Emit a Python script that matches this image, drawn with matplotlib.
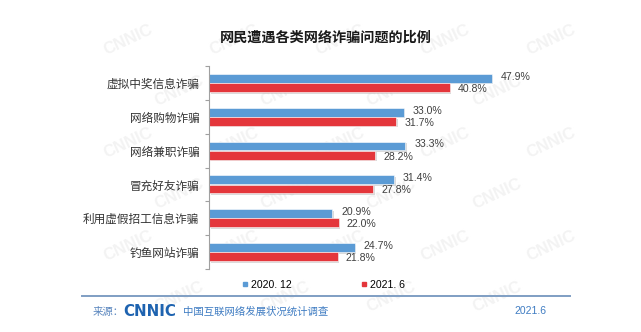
import matplotlib
matplotlib.use("Agg")
import matplotlib.pyplot as plt
import matplotlib.patheffects as pe
from matplotlib.lines import Line2D
import numpy as np

categories = ["虚拟中奖信息诈骗", "网络购物诈骗", "网络兼职诈骗", "冒充好友诈骗", "利用虚假招工信息诈骗", "钓鱼网站诈骗"]
series_names = ["2020. 12", "2021. 6"]
values_2020 = [47.9, 33.0, 33.3, 31.4, 20.9, 24.7]
values_2021 = [40.8, 31.7, 28.2, 27.8, 22.0, 21.8]

title = "网民遭遇各类网络诈骗问题的比例"
source_label = "来源："
logo_text = "CNNIC"
survey_text = "中国互联网络发展状况统计调查"
date_text = "2021.6"

CJK = ["Noto Sans CJK SC", "DejaVu Sans"]
LAT = ["Liberation Sans", "Noto Sans CJK SC", "DejaVu Sans"]
plt.rcParams["font.family"] = CJK

blue = "#5B9BD5"
red = "#E4363B"

fig = plt.figure(figsize=(6.41, 3.32), dpi=100)
fig.patch.set_facecolor("white")

# faint watermark inside the slide area
for row in range(6):
    for col in range(5):
        x = 0.20 + col * 0.165 + (row % 2) * 0.08
        yy = 0.88 - row * 0.155
        if 0.14 < x < 0.88:
            fig.text(x, yy, "CNNIC", fontsize=12, fontweight="bold", color="#F3F3F3",
                     rotation=25, ha="center", va="center", family=LAT, zorder=0)

ax = fig.add_axes([209 / 641, 1 - 269 / 332, 354 / 641, 203 / 332])
ax.set_facecolor("none")
ax.set_zorder(2)

y = np.arange(len(categories))
h = 0.26
off = 0.135
shadow = [pe.SimplePatchShadow(offset=(1.2, -1.2), shadow_rgbFace="#999999", alpha=0.35), pe.Normal()]
ax.barh(y - off, values_2020, height=h, color=blue, edgecolor="white", linewidth=0.4, path_effects=shadow)
ax.barh(y + off, values_2021, height=h, color=red, edgecolor="white", linewidth=0.4, path_effects=shadow)

for v, yy in zip(values_2020, y - off):
    ax.annotate(f"{v:.1f}%", (v, yy), xytext=(6.3, 1.2), textcoords="offset points",
                ha="left", va="center", fontsize=7.6, color="#404040", family=LAT)
for v, yy in zip(values_2021, y + off):
    ax.annotate(f"{v:.1f}%", (v, yy), xytext=(5.8, -1.0), textcoords="offset points",
                ha="left", va="center", fontsize=7.6, color="#404040", family=LAT)

ax.set_xlim(0, 60)
ax.set_ylim(len(categories) - 0.5, -0.5)
ax.set_yticks(y)
ax.set_yticklabels(categories, fontsize=8.4, color="#333333")
ax.set_yticks(np.arange(-0.5, len(categories), 1.0), minor=True)
ax.tick_params(axis="y", which="major", length=0, pad=7)
ax.tick_params(axis="y", which="minor", length=3, color="#A0A0A0", width=0.8)
ax.set_xticks([])
for s in ["top", "right", "bottom"]:
    ax.spines[s].set_visible(False)
ax.spines["left"].set_color("#A0A0A0")
ax.spines["left"].set_linewidth(0.8)

fig.text(326 / 641, 1 - 38 / 332, title, fontsize=10.2, fontweight="bold",
         color="#1a1a1a", ha="center", va="center", family=CJK)

handles = [Line2D([], [], marker="s", linestyle="none", markersize=3.2, color=blue),
           Line2D([], [], marker="s", linestyle="none", markersize=3.2, color=red)]
fig.legend(handles, series_names, loc="center", bbox_to_anchor=(324 / 641, 1 - 285 / 332),
           ncol=2, frameon=False, handlelength=0.5, handletextpad=0.3,
           columnspacing=6.6, prop={"family": LAT, "size": 7.6})

fig.add_artist(Line2D([82 / 641, 570 / 641], [1 - 296 / 332, 1 - 296 / 332],
                      transform=fig.transFigure, color="#7F9EC3", linewidth=1.4))

fig.text(93 / 641, 1 - 312 / 332, source_label, fontsize=7.5, color="#5A86BE",
         ha="left", va="center", family=CJK)
fig.text(123 / 641, 1 - 311 / 332, logo_text, fontsize=10.8, fontweight="heavy",
         color="#1E63B0", ha="left", va="center", family=["DejaVu Sans"])
fig.text(183 / 641, 1 - 312 / 332, survey_text, fontsize=7.5, color="#3F7CC2",
         ha="left", va="center", family=CJK)
fig.text(546 / 641, 1 - 311 / 332, date_text, fontsize=7.5, color="#3F7CC2",
         ha="right", va="center", family=LAT)

fig.savefig("out.png", dpi=100)
